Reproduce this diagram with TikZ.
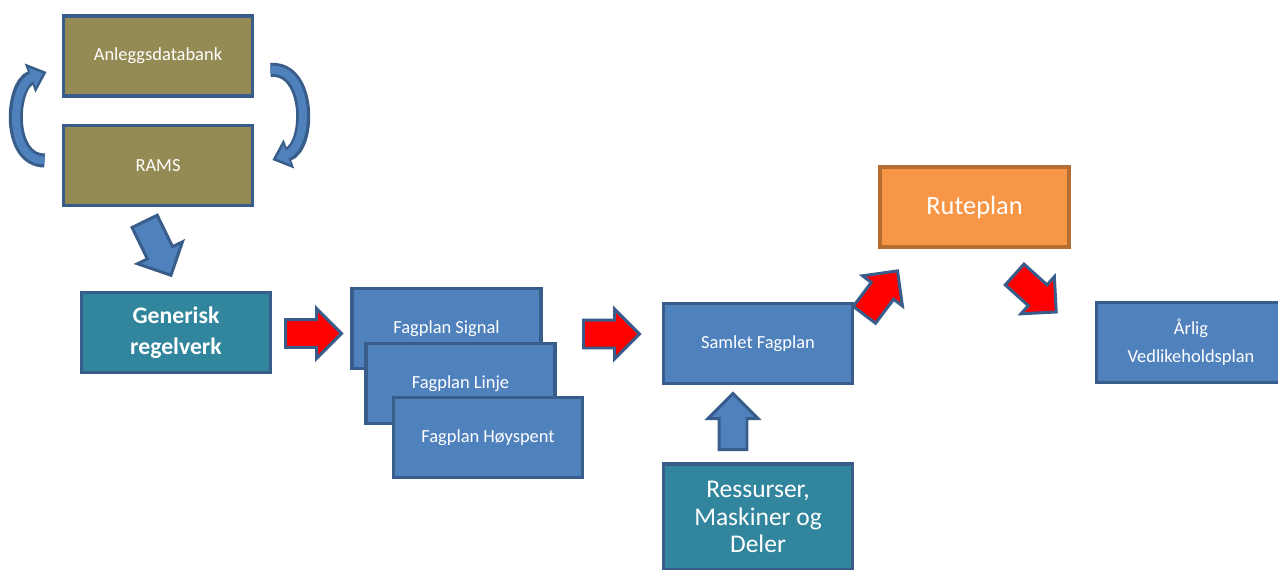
\documentclass[tikz,border=0pt]{standalone}
\usepackage{fontspec}
\setmainfont{Carlito}
\usetikzlibrary{shapes.arrows,arrows.meta}

\definecolor{rimblue}{HTML}{385D8A}
\definecolor{planblue}{HTML}{4F81BD}
\definecolor{dbolive}{HTML}{948A54}
\definecolor{ruleteal}{HTML}{31859C}
\definecolor{routeorange}{HTML}{F79646}
\definecolor{routerim}{HTML}{B66D31}

\tikzstyle{box} = [rectangle, minimum width=3.78cm, minimum height=1.6cm, text centered, align=center, draw=rimblue, line width=2.2pt, text=white, font=\fontsize{10.5}{16}\selectfont]
\tikzstyle{olivebox} = [box, fill=dbolive]
\tikzstyle{planbox} = [box, fill=planblue]
\tikzstyle{tealbox} = [box, fill=ruleteal, font=\fontsize{14.5}{15.6}\selectfont]
\tikzstyle{routebox} = [box, fill=routeorange, draw=routerim, font=\fontsize{15}{16}\selectfont]
\tikzstyle{blockarrow} = [single arrow, anchor=tail, draw=rimblue, line width=1.7pt, inner sep=0.25cm, single arrow head extend=0.22cm, minimum height=1.12cm]
\tikzstyle{redarrow} = [blockarrow, fill=red]
\tikzstyle{bluearrow} = [blockarrow, fill=planblue]
\tikzstyle{loopout} = [draw=rimblue, line width=8pt, -{Triangle[length=10pt,width=17pt]}]
\tikzstyle{loopin} = [draw=planblue, line width=4.6pt, shorten >=2.3pt, -{Triangle[length=6.6pt,width=11.5pt]}]

\begin{document}
\begin{tikzpicture}[x=0.02cm,y=0.02cm]
	\useasboundingbox (0,0) rectangle (1278,-569);

	\node (anlegg) [olivebox] at (158,-56) {Anleggsdatabank};
	\node (rams) [olivebox, below of=anlegg, node distance=2.19cm] {RAMS};
	\node (gen) [tealbox, font=\bfseries\fontsize{13.5}{18}\selectfont] at (176,-332.5) {Generisk\\regelverk};
	\node (fag1) [planbox] at (446.5,-328.5) {Fagplan Signal};
	\node (fag2) [planbox, below of=fag1, node distance=1.1cm, xshift=0.28cm] {Fagplan Linje};
	\node (fag3) [planbox, below of=fag2, node distance=1.08cm, xshift=0.55cm] {Fagplan Høyspent};
	\node (samlet) [planbox] at (758,-343.5) {Samlet Fagplan};
	\node (ressurs) [tealbox, below of=samlet, node distance=3.47cm, minimum height=2.12cm] {Ressurser,\\Maskiner og\\Deler};
	\node (rute) [routebox] at (974.5,-207) {Ruteplan};
	\node (arlig) [planbox] at (1191,-342.5) {Årlig\\Vedlikeholdsplan};

	% block arrows, placed by their tails
	\node (arrdown) [bluearrow, rotate=-64, minimum height=1.2cm] at (144,-220) {};
	\node (arr1) [redarrow] at (284,-333.5) {};
	\node (arr2) [redarrow] at (582,-334) {};
	\node (arr3) [redarrow, rotate=53, minimum height=1.1cm] at (863.5,-316) {};
	\node (arr4) [redarrow, rotate=-42] at (1013.5,-273.5) {};
	\node (arrup) [bluearrow, rotate=90] at (733,-451) {};

	% loop between databank and RAMS
	\draw [loopout] ([xshift=-0.34cm,yshift=0.1cm]rams.west) to[out=180,in=200,looseness=1.1] ([xshift=-0.3cm,yshift=-0.32cm]anlegg.west);
	\draw [loopin] ([xshift=-0.34cm,yshift=0.1cm]rams.west) to[out=180,in=200,looseness=1.1] ([xshift=-0.3cm,yshift=-0.32cm]anlegg.west);
	\draw [loopout] ([xshift=0.32cm,yshift=-0.28cm]anlegg.east) to[out=5,in=20,looseness=1.15] ([xshift=0.36cm,yshift=0.11cm]rams.east);
	\draw [loopin] ([xshift=0.32cm,yshift=-0.28cm]anlegg.east) to[out=5,in=20,looseness=1.15] ([xshift=0.36cm,yshift=0.11cm]rams.east);
\end{tikzpicture}
\end{document}
